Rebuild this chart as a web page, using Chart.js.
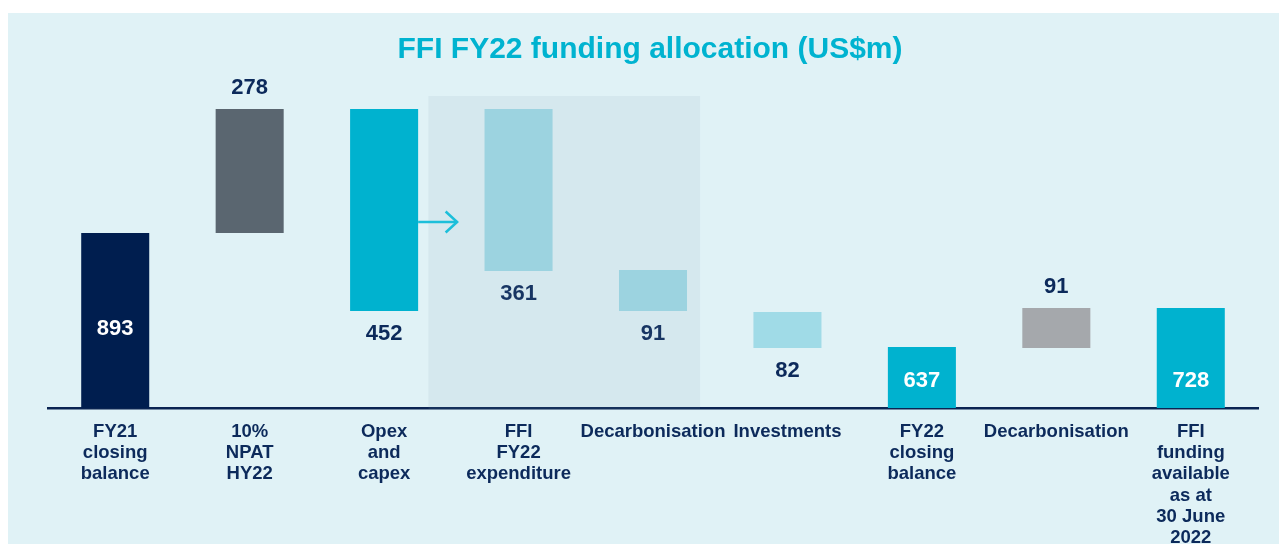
<!DOCTYPE html>
<html>
<head>
<meta charset="utf-8">
<script src="https://cdn.jsdelivr.net/npm/chart.js@4.4.1/dist/chart.umd.min.js"></script>
<style>
  html, body { margin: 0; padding: 0; background: #ffffff; }
  #wrap { width: 1279px; height: 544px; position: relative; }
  canvas { display: block; }
</style>
</head>
<body>
<div id="wrap"><canvas id="c" width="1279" height="544"></canvas></div>
<script>
// ---- data ----
const categories = [
  ['FY21', 'closing', 'balance'],
  ['10%', 'NPAT', 'HY22'],
  ['Opex', 'and', 'capex'],
  ['FFI', 'FY22', 'expenditure'],
  ['Decarbonisation'],
  ['Investments'],
  ['FY22', 'closing', 'balance'],
  ['Decarbonisation'],
  ['FFI', 'funding', 'available', 'as at', '30 June', '2022']
];
const valueLabels = [893, 278, 452, 361, 91, 82, 637, 91, 728];
// the graphic is not drawn to scale: bar extents as they appear (display units)
const barLow  = [0, 175, 97, 137, 97, 60, 0, 60, 0];
const barHigh = [175, 299, 299, 299, 138, 96, 61, 100, 100];
const titleText = 'FFI FY22 funding allocation (US$m)';

// ---- styling ----
const NAVY_TEXT = '#0c2a5b';
const barColors = ['#001e4f', '#5a6670', '#00b2cf', '#a0dbe7', '#a0dbe7', '#a0dbe7', '#00b2cf', '#a5a8ac', '#00b2cf'];
const labelMode = ['inside', 'above', 'below', 'below', 'below', 'below', 'inside', 'above', 'inside'];
const insideOffset = [80, 0, 0, 0, 0, 0, 28, 0, 28];

const floating = barLow.map((lo, i) => [lo, barHigh[i]]);

const decorPlugin = {
  id: 'decor',
  beforeDraw(chart) {
    const ctx = chart.ctx;
    ctx.save();
    ctx.fillStyle = '#ffffff';
    ctx.fillRect(0, 0, chart.width, chart.height);
    ctx.fillStyle = '#e0f2f6';
    ctx.fillRect(8, 13, chart.width - 8, chart.height - 13);
    ctx.restore();
  },
  afterDatasetsDraw(chart) {
    const ctx = chart.ctx;
    const x = chart.scales.x, y = chart.scales.y;
    const meta = chart.getDatasetMeta(0);
    ctx.save();
    // value labels
    ctx.font = 'bold 22px "Liberation Sans", Arial, sans-serif';
    ctx.textAlign = 'center';
    ctx.textBaseline = 'middle';
    meta.data.forEach((bar, i) => {
      const mode = labelMode[i];
      let ty;
      if (mode === 'inside') {
        ty = y.getPixelForValue(insideOffset[i]);
        ctx.fillStyle = '#ffffff';
      } else if (mode === 'above') {
        ty = y.getPixelForValue(barHigh[i]) - 22;
        ctx.fillStyle = NAVY_TEXT;
      } else {
        ty = y.getPixelForValue(barLow[i]) + 22;
        ctx.fillStyle = NAVY_TEXT;
      }
      ctx.fillText(String(valueLabels[i]), bar.x, ty + 1);
    });
    // highlight panel over FFI FY22 expenditure group
    const rx0 = x.getPixelForValue(2.33);
    const rx1 = x.getPixelForValue(4.35);
    const ry0 = y.getPixelForValue(312);
    const ry1 = y.getPixelForValue(0) + 1.5;
    ctx.fillStyle = 'rgba(120,150,170,0.106)';
    ctx.fillRect(rx0, ry0, rx1 - rx0, ry1 - ry0);
    // arrow from Opex bar
    const b = meta.data[2];
    const ax0 = b.x + b.width / 2;
    const ax1 = ax0 + 39;
    const ay = y.getPixelForValue(186);
    ctx.strokeStyle = '#1cbfda';
    ctx.lineWidth = 2.5;
    ctx.beginPath();
    ctx.moveTo(ax0, ay);
    ctx.lineTo(ax1, ay);
    ctx.stroke();
    ctx.beginPath();
    ctx.moveTo(ax1 - 11.5, ay - 10.5);
    ctx.lineTo(ax1, ay);
    ctx.lineTo(ax1 - 11.5, ay + 10.5);
    ctx.stroke();
    // title
    ctx.fillStyle = '#00b3d0';
    ctx.font = 'bold 30px "Liberation Sans", Arial, sans-serif';
    ctx.textAlign = 'center';
    ctx.textBaseline = 'alphabetic';
    ctx.fillText(titleText, 650, 58);
    ctx.restore();
  }
};

new Chart(document.getElementById('c'), {
  type: 'bar',
  data: {
    labels: categories,
    datasets: [{
      data: floating,
      backgroundColor: barColors,
      borderWidth: 0,
      categoryPercentage: 1,
      barPercentage: 0.506
    }]
  },
  options: {
    responsive: false,
    animation: false,
    events: [],
    layout: { padding: { left: 48, right: 21, top: 88, bottom: 0 } },
    plugins: {
      legend: { display: false },
      tooltip: { enabled: false },
      title: { display: false }
    },
    scales: {
      x: {
        grid: { display: false, drawTicks: false },
        border: { display: true, color: '#0a2452', width: 2.5 },
        ticks: {
          color: NAVY_TEXT,
          padding: 13,
          maxRotation: 0,
          autoSkip: false,
          font: { family: '"Liberation Sans", Arial, sans-serif', size: 18.5, weight: 'bold', lineHeight: 1.15 }
        },
        afterFit(scale) { scale.height = 136; }
      },
      y: {
        display: false,
        min: 0,
        max: 320
      }
    }
  },
  plugins: [decorPlugin]
});
</script>
</body>
</html>
